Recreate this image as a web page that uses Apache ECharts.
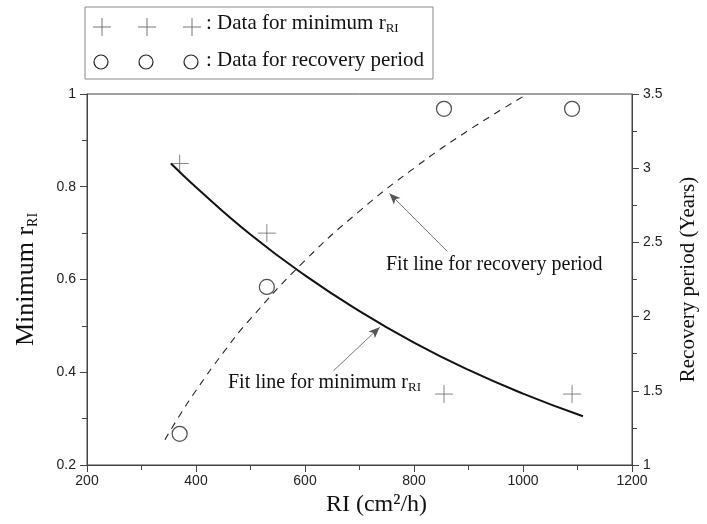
<!DOCTYPE html>
<html>
<head>
<meta charset="utf-8">
<script src="https://cdn.jsdelivr.net/npm/echarts@6/dist/echarts.min.js"></script>
<style>
  html, body { margin: 0; padding: 0; background: #fff; }
  #main { width: 707px; height: 524px; }
</style>
</head>
<body>
<div id="main"></div>
<script>
// measured points
var riPoints = [370, 530, 855, 1090];
var minRri = [0.85, 0.70, 0.353, 0.353];
var recoveryYears = [1.21, 2.2, 3.4, 3.4];

// fit lines
var fitMinX = [354, 400, 500, 600, 700, 800, 900, 1000, 1110];
var fitMinY = [0.85, 0.799, 0.697, 0.609, 0.532, 0.464, 0.405, 0.354, 0.305];
var fitRecX = [343, 370, 400, 450, 500, 600, 700, 800, 900, 1008];
var fitRecY = [1.17, 1.334, 1.502, 1.757, 1.985, 2.378, 2.711, 3.0, 3.255, 3.5];

var serif = 'Liberation Serif';
var sans = 'Liberation Sans';
var crossPath = 'path://M0,10L20,10M10,0L10,20';

function pairs(xs, ys) {
    var out = [];
    for (var i = 0; i < xs.length; i++) {
        out.push([xs[i], ys[i]]);
    }
    return out;
}

var chart = echarts.init(document.getElementById('main'));

// legend box drawn by hand (three symbols per row)
var extras = [
    { type: 'rect', shape: { x: 85, y: 7, width: 348, height: 72 },
      style: { fill: 'none', stroke: '#888', lineWidth: 1 } }
];
[102, 147, 192].forEach(function (cx) {
    extras.push({ type: 'line', shape: { x1: cx - 9, y1: 27, x2: cx + 9, y2: 27 },
        style: { stroke: '#777', lineWidth: 1 } });
    extras.push({ type: 'line', shape: { x1: cx, y1: 18, x2: cx, y2: 36 },
        style: { stroke: '#777', lineWidth: 1 } });
    extras.push({ type: 'circle', shape: { cx: cx - 1, cy: 62, r: 7 },
        style: { fill: 'none', stroke: '#222', lineWidth: 1.2 } });
});
extras.push({
    type: 'text', left: 206, top: 13,
    style: {
        text: '{a|: Data for minimum r}{s|RI}',
        rich: {
            a: { fontFamily: serif, fontSize: 21, fill: '#111' },
            s: { fontFamily: serif, fontSize: 13, fill: '#111', padding: [11, 0, 0, 0] }
        }
    }
});
extras.push({
    type: 'text', left: 206, top: 50,
    style: { text: ': Data for recovery period', fontFamily: serif, fontSize: 21, fill: '#111' }
});

// annotation labels
extras.push({
    type: 'text', left: 386, top: 255,
    style: { text: 'Fit line for recovery period', fontFamily: serif, fontSize: 20, fill: '#111' }
});
extras.push({
    type: 'text', left: 228, top: 373,
    style: {
        text: '{a|Fit line for minimum r}{s|RI}',
        rich: {
            a: { fontFamily: serif, fontSize: 20, fill: '#111' },
            s: { fontFamily: serif, fontSize: 13, fill: '#111', padding: [10, 0, 0, 0] }
        }
    }
});

var axisLineStyle = { color: '#444', width: 1 };

chart.setOption({
    animation: false,
    grid: {
        left: 87, right: 74, top: 94, bottom: 59,
        show: true, borderColor: '#444', borderWidth: 1, backgroundColor: 'transparent'
    },
    xAxis: {
        type: 'value', min: 200, max: 1200, interval: 200,
        name: 'RI (cm\u00b2/h)', nameLocation: 'middle', nameGap: 28,
        nameTextStyle: { fontFamily: serif, fontSize: 24, color: '#111', padding: [0, 0, 0, 34] },
        axisLine: { show: true, lineStyle: axisLineStyle },
        axisTick: { show: true, inside: false, length: 7, lineStyle: axisLineStyle },
        minorTick: { show: true, splitNumber: 2, length: 5, lineStyle: axisLineStyle },
        axisLabel: {
            fontFamily: sans, fontSize: 14, color: '#222', margin: 9,
            formatter: function (v) { return String(v); }
        },
        splitLine: { show: false }
    },
    yAxis: [
        {
            type: 'value', min: 0.2, max: 1, interval: 0.2,
            name: '{a|Minimum r}{s|RI}', nameLocation: 'middle', nameGap: 47, nameRotate: 90,
            nameTextStyle: {
                rich: {
                    a: { fontFamily: serif, fontSize: 26, color: '#111' },
                    s: { fontFamily: serif, fontSize: 14, color: '#111', padding: [13, 0, 0, 0] }
                }
            },
            axisLine: { show: true, lineStyle: axisLineStyle },
            axisTick: { show: true, inside: false, length: 7, lineStyle: axisLineStyle },
            minorTick: { show: true, splitNumber: 2, length: 5, lineStyle: axisLineStyle },
            axisLabel: {
                fontFamily: sans, fontSize: 14, color: '#222', margin: 11,
                formatter: function (v) { return String(Math.round(v * 10) / 10); }
            },
            splitLine: { show: false }
        },
        {
            type: 'value', min: 1, max: 3.5, interval: 0.5, position: 'right',
            name: 'Recovery period (Years)', nameLocation: 'middle', nameGap: 46, nameRotate: 90,
            nameTextStyle: { fontFamily: serif, fontSize: 21, color: '#111' },
            axisLine: { show: true, lineStyle: axisLineStyle },
            axisTick: { show: true, inside: false, length: 7, lineStyle: axisLineStyle },
            minorTick: { show: true, splitNumber: 2, length: 5, lineStyle: axisLineStyle },
            axisLabel: { fontFamily: sans, fontSize: 14, color: '#222', margin: 11 },
            splitLine: { show: false }
        }
    ],
    graphic: extras,
    series: [
        {
            name: 'Fit min rRI', type: 'line', yAxisIndex: 0, smooth: true,
            showSymbol: false, silent: true,
            data: pairs(fitMinX, fitMinY),
            lineStyle: { color: '#111', width: 2 },
            markLine: {
                silent: true, symbol: ['none', 'arrow'], symbolSize: [7, 11],
                label: { show: false },
                lineStyle: { color: '#555', width: 0.8, type: 'solid' },
                data: [[{ coord: [652, 0.403] }, { coord: [737, 0.497] }]]
            }
        },
        {
            name: 'Fit recovery', type: 'line', yAxisIndex: 1, smooth: true,
            showSymbol: false, silent: true,
            data: pairs(fitRecX, fitRecY),
            lineStyle: { color: '#222', width: 1.1, type: [7, 6] },
            markLine: {
                silent: true, symbol: ['none', 'arrow'], symbolSize: [7, 11],
                label: { show: false },
                lineStyle: { color: '#555', width: 0.8, type: 'solid' },
                data: [[{ coord: [861, 2.44] }, { coord: [755, 2.83] }]]
            }
        },
        {
            name: 'min rRI', type: 'scatter', yAxisIndex: 0,
            symbol: crossPath, symbolSize: 18, silent: true,
            data: pairs(riPoints, minRri),
            itemStyle: { color: 'none', borderColor: '#666', borderWidth: 1 }
        },
        {
            name: 'recovery', type: 'scatter', yAxisIndex: 1,
            symbol: 'circle', symbolSize: 15, silent: true,
            data: pairs(riPoints, recoveryYears),
            itemStyle: { color: 'rgba(255,255,255,0)', borderColor: '#222', borderWidth: 1.2 }
        }
    ]
});
</script>
</body>
</html>
